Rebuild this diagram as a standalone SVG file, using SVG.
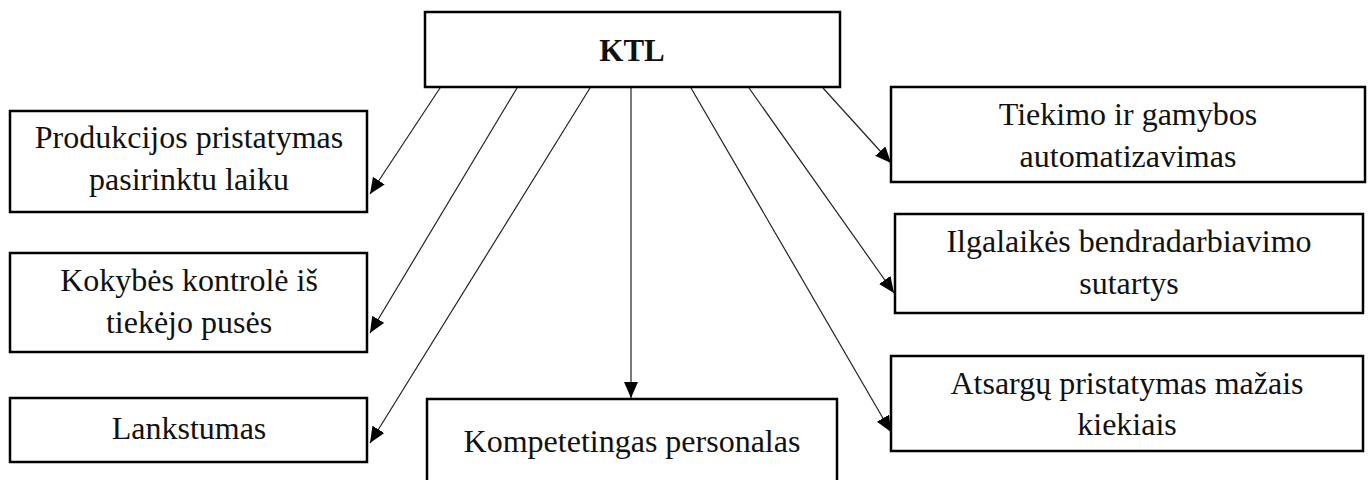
<svg xmlns="http://www.w3.org/2000/svg" width="1372" height="480" viewBox="0 0 1372 480">
  <style>
    .box { fill: #ffffff; stroke: #000000; stroke-width: 2.5; }
    .lbl { font-family: "Liberation Serif", "Times New Roman", serif; font-size: 32px; fill: #111111; text-anchor: middle; }
    .head { font-weight: bold; font-size: 31px; }
    .edge { stroke: #222222; stroke-width: 1.2; fill: none; marker-end: url(#arrow); }
  </style>
  <defs>
    <marker id="arrow" markerUnits="userSpaceOnUse" markerWidth="18" markerHeight="14" refX="16" refY="7" orient="auto">
      <path d="M0,0 L16,7 L0,14 Z" fill="#000000"/>
    </marker>
  </defs>
  <rect width="1372" height="480" fill="#ffffff"/>

  <!-- connectors from the KTL box -->
  <g id="connectors">
    <line class="edge" x1="440" y1="88" x2="370" y2="194"/>
    <line class="edge" x1="517" y1="88" x2="370" y2="333"/>
    <line class="edge" x1="590" y1="88" x2="370" y2="443"/>
    <line class="edge" x1="631" y1="88" x2="631" y2="398"/>
    <line class="edge" x1="691" y1="88" x2="891" y2="432"/>
    <line class="edge" x1="749" y1="88" x2="894" y2="293"/>
    <line class="edge" x1="823" y1="88" x2="891" y2="163"/>
  </g>

  <g id="ktl">
    <rect class="box" x="425" y="12" width="415" height="75"/>
    <text class="lbl head" x="632" y="61">KTL</text>
  </g>

  <g id="produkcijos">
    <rect class="box" x="10" y="111" width="357" height="101"/>
    <text class="lbl" x="189" y="148">Produkcijos pristatymas</text>
    <text class="lbl" x="189" y="190">pasirinktu laiku</text>
  </g>

  <g id="kokybes">
    <rect class="box" x="10" y="253" width="357" height="99"/>
    <text class="lbl" x="189" y="291">Kokybės kontrolė iš</text>
    <text class="lbl" x="189" y="333">tiekėjo pusės</text>
  </g>

  <g id="lankstumas">
    <rect class="box" x="10" y="398" width="357" height="64"/>
    <text class="lbl" x="189" y="439">Lankstumas</text>
  </g>

  <g id="kompetetingas">
    <rect class="box" x="427" y="399" width="410" height="90"/>
    <text class="lbl" x="632" y="452">Kompetetingas personalas</text>
  </g>

  <g id="tiekimo">
    <rect class="box" x="891" y="87" width="474" height="95"/>
    <text class="lbl" x="1128" y="125">Tiekimo ir gamybos</text>
    <text class="lbl" x="1128" y="167">automatizavimas</text>
  </g>

  <g id="ilgalaikes">
    <rect class="box" x="895" y="214" width="468" height="99"/>
    <text class="lbl" x="1129" y="252">Ilgalaikės bendradarbiavimo</text>
    <text class="lbl" x="1129" y="294">sutartys</text>
  </g>

  <g id="atsargu">
    <rect class="box" x="891" y="356" width="472" height="95"/>
    <text class="lbl" x="1127" y="394">Atsargų pristatymas mažais</text>
    <text class="lbl" x="1127" y="435">kiekiais</text>
  </g>
</svg>
